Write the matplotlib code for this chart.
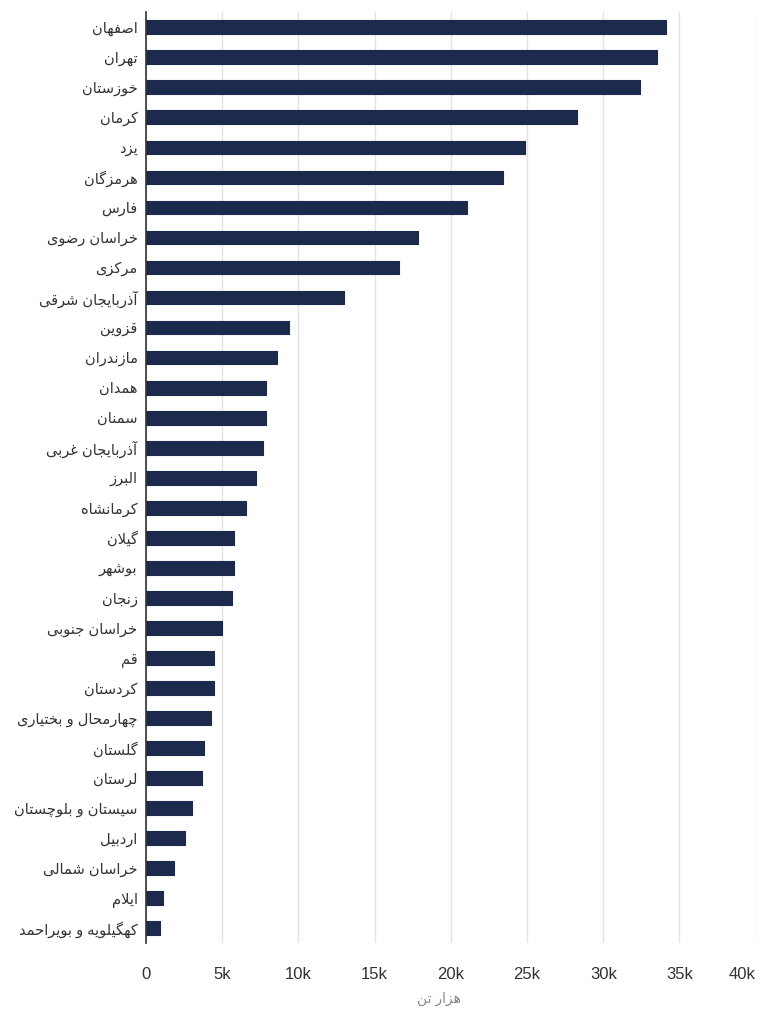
import matplotlib
matplotlib.use('Agg')
import matplotlib.pyplot as plt

# provinces, top to bottom
provinces = ['اصفهان', 'تهران', 'خوزستان', 'کرمان', 'یزد', 'هرمزگان', 'فارس',
             'خراسان رضوی', 'مرکزی', 'آذربایجان شرقی', 'قزوین', 'مازندران',
             'همدان', 'سمنان', 'آذربایجان غربی', 'البرز', 'کرمانشاه', 'گیلان',
             'بوشهر', 'زنجان', 'خراسان جنوبی', 'قم', 'کردستان',
             'چهارمحال و بختیاری', 'گلستان', 'لرستان', 'سیستان و بلوچستان',
             'اردبیل', 'خراسان شمالی', 'ایلام', 'کهگیلویه و بویراحمد']
# thousand tonnes
values = [34100, 33550, 32400, 28250, 24850, 23450, 21050, 17880, 16630, 13000,
          9400, 8620, 7880, 7880, 7700, 7230, 6550, 5790, 5790, 5650, 4990,
          4480, 4480, 4280, 3820, 3690, 3030, 2560, 1840, 1130, 930]
ticks = [0, 5000, 10000, 15000, 20000, 25000, 30000, 35000, 40000]
tick_labels = ['0', '5k', '10k', '15k', '20k', '25k', '30k', '35k', '40k']
x_title = 'هزار تن'

# minimal Persian shaping (matplotlib has no bidi / joining support)
# letter: (isolated, final, initial, medial); right-joining letters only have 2 forms
FORMS = {
    'آ': (0xFE81, 0xFE82), 'ا': (0xFE8D, 0xFE8E), 'د': (0xFEA9, 0xFEAA),
    'ر': (0xFEAD, 0xFEAE), 'ز': (0xFEAF, 0xFEB0), 'و': (0xFEED, 0xFEEE),
    'ژ': (0xFB8A, 0xFB8B),
    'ب': (0xFE8F, 0xFE90, 0xFE91, 0xFE92), 'ت': (0xFE95, 0xFE96, 0xFE97, 0xFE98),
    'ج': (0xFE9D, 0xFE9E, 0xFE9F, 0xFEA0), 'ح': (0xFEA1, 0xFEA2, 0xFEA3, 0xFEA4),
    'خ': (0xFEA5, 0xFEA6, 0xFEA7, 0xFEA8), 'س': (0xFEB1, 0xFEB2, 0xFEB3, 0xFEB4),
    'ش': (0xFEB5, 0xFEB6, 0xFEB7, 0xFEB8), 'ص': (0xFEB9, 0xFEBA, 0xFEBB, 0xFEBC),
    'ض': (0xFEBD, 0xFEBE, 0xFEBF, 0xFEC0), 'غ': (0xFECD, 0xFECE, 0xFECF, 0xFED0),
    'ف': (0xFED1, 0xFED2, 0xFED3, 0xFED4), 'ق': (0xFED5, 0xFED6, 0xFED7, 0xFED8),
    'ل': (0xFEDD, 0xFEDE, 0xFEDF, 0xFEE0), 'م': (0xFEE1, 0xFEE2, 0xFEE3, 0xFEE4),
    'ن': (0xFEE5, 0xFEE6, 0xFEE7, 0xFEE8), 'ه': (0xFEE9, 0xFEEA, 0xFEEB, 0xFEEC),
    'پ': (0xFB56, 0xFB57, 0xFB58, 0xFB59), 'چ': (0xFB7A, 0xFB7B, 0xFB7C, 0xFB7D),
    'ک': (0xFB8E, 0xFB8F, 0xFB90, 0xFB91), 'گ': (0xFB92, 0xFB93, 0xFB94, 0xFB95),
    'ی': (0xFBFC, 0xFBFD, 0xFBFE, 0xFBFF),
}
LAM_ALEF = {'ا': (0xFEFB, 0xFEFC), 'آ': (0xFEF5, 0xFEF6)}


def shape(text):
    # merge lam + alef into one unit first
    units = []
    i = 0
    while i < len(text):
        if text[i] == 'ل' and i + 1 < len(text) and text[i + 1] in LAM_ALEF:
            units.append(('LA', text[i + 1]))
            i += 2
        else:
            units.append((text[i], None))
            i += 1

    def joins_next(u):
        c = u[0]
        return c in FORMS and len(FORMS[c]) == 4

    def joinable(u):
        return u[0] == 'LA' or u[0] in FORMS

    out = []
    for k, u in enumerate(units):
        prev_ok = k > 0 and joins_next(units[k - 1]) and joinable(u)
        if u[0] == 'LA':
            f = LAM_ALEF[u[1]]
            out.append(chr(f[1] if prev_ok else f[0]))
            continue
        if u[0] not in FORMS:
            out.append(u[0])
            continue
        f = FORMS[u[0]]
        next_ok = (len(f) == 4 and k + 1 < len(units) and joinable(units[k + 1]))
        if len(f) == 2:
            out.append(chr(f[1] if prev_ok else f[0]))
        elif prev_ok and next_ok:
            out.append(chr(f[3]))
        elif prev_ok:
            out.append(chr(f[1]))
        elif next_ok:
            out.append(chr(f[2]))
        else:
            out.append(chr(f[0]))
    return ''.join(reversed(out))


plt.rcParams['font.family'] = ['Liberation Sans', 'DejaVu Sans']

fig = plt.figure(figsize=(7.68, 10.24), dpi=100)
ax = fig.add_axes([0.19, 0.079, 0.794, 0.909])

ypos = list(range(len(provinces)))
ax.barh(ypos, values, height=0.46, color='#1c2a4e', edgecolor='#1c2a4e',
        linewidth=0.8, joinstyle='round', zorder=3)

ax.set_ylim(len(provinces) - 0.5, -0.5)
ax.set_xlim(0, 40000)
ax.set_yticks(ypos)
ax.set_yticklabels([shape(p) for p in provinces], fontsize=10.5, color='#333333')
ax.set_xticks(ticks)
ax.set_xticklabels(tick_labels, fontsize=12, color='#333333')
ax.get_xticklabels()[-1].set_horizontalalignment('right')
ax.tick_params(axis='y', length=0, pad=6)
ax.tick_params(axis='x', length=0, pad=17)

ax.grid(axis='x', color='#e3e3e3', linewidth=1, zorder=0)
for s in ['top', 'right', 'bottom']:
    ax.spines[s].set_visible(False)
ax.spines['left'].set_color('#333333')
ax.spines['left'].set_linewidth(1.2)
ax.spines['left'].set_zorder(4)

ax.set_xlabel(shape(x_title), fontsize=10, color='#888888', labelpad=10)
ax.xaxis.set_label_coords(0.48, -0.052)

fig.savefig('out.png', dpi=100)
